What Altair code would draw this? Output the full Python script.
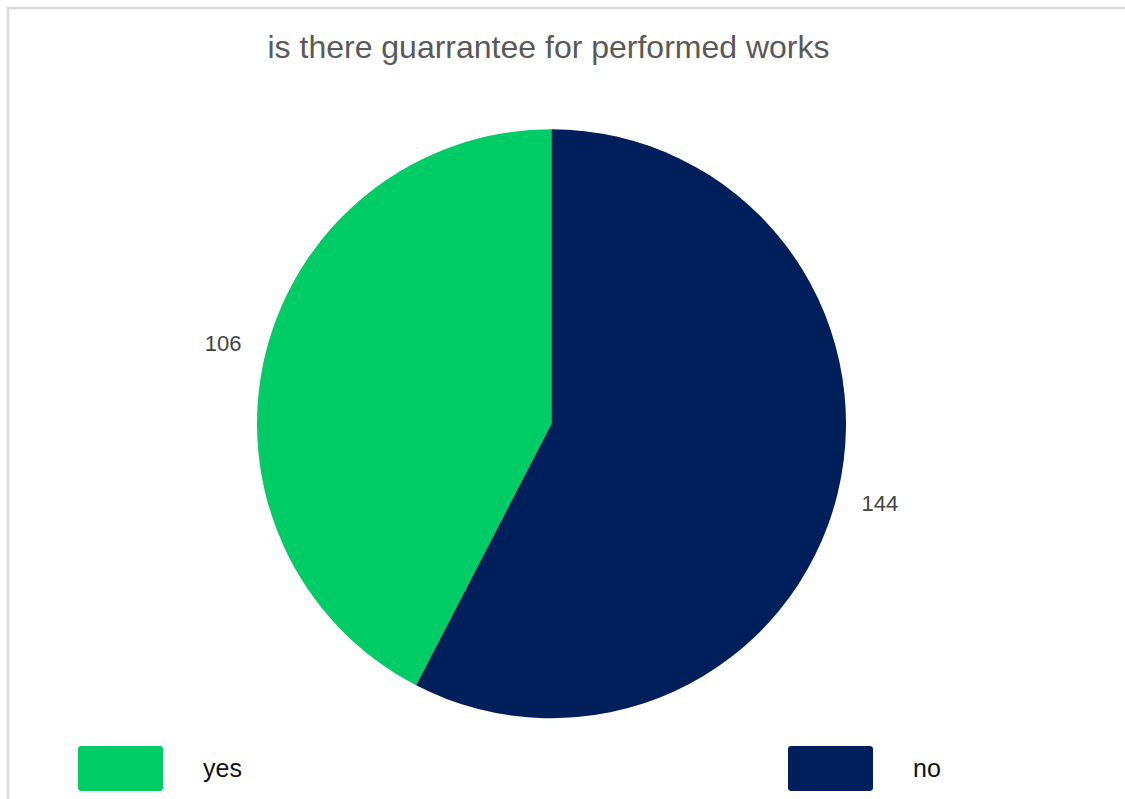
import altair as alt
import pandas as pd

title_text = "is there guarrantee for performed works"
categories = ["yes", "no"]
counts = [106, 144]
stack_order = [1, 0]
colors = ["#00cc66", "#001f5b"]

df = pd.DataFrame({"answer": categories, "count": counts, "ord": stack_order})

FONT = "Liberation Sans"

base = alt.Chart(df).encode(
    theta=alt.Theta("count:Q", stack=True),
    order=alt.Order("ord:Q"),
)

pie = base.mark_arc(outerRadius=294.5, stroke=None).encode(
    x=alt.value(551.5),
    y=alt.value(423.75),
    color=alt.Color(
        "answer:N",
        scale=alt.Scale(domain=categories, range=colors),
        legend=alt.Legend(title=None),
    ),
)

labels = base.mark_text(radius=338, fontSize=22, font=FONT, color="#444444").encode(
    x=alt.value(551.5),
    y=alt.value(423.75),
    text=alt.Text("count:Q"),
)

frame = alt.Chart(alt.Data(values=[{"f": 1}])).mark_rect(
    fill="transparent", stroke="#d9d9d9", strokeWidth=2.5
).encode(
    x=alt.value(8), x2=alt.value(1300),
    y=alt.value(8), y2=alt.value(1000),
)

title = alt.Chart(alt.Data(values=[{"t": title_text}])).mark_text(
    fontSize=32, font=FONT, color="#595959", baseline="alphabetic", align="center"
).encode(
    x=alt.value(548.5),
    y=alt.value(57.5),
    text="t:N",
)

rect_path = (
    "M-0.93,-0.529H0.93A0.07,0.07 0 0 1 1,-0.459V0.459"
    "A0.07,0.07 0 0 1 0.93,0.529H-0.93A0.07,0.07 0 0 1 -1,0.459"
    "V-0.459A0.07,0.07 0 0 1 -0.93,-0.529Z"
)

chart = alt.layer(frame, title, pie, labels).properties(
    width=1125,
    height=799,
    padding=0,
    autosize=alt.AutoSizeParams(type="none"),
).configure_view(stroke=None).configure_legend(
    orient="none",
    legendX=78,
    legendY=726,
    direction="horizontal",
    symbolType=rect_path,
    symbolSize=7225,
    symbolStrokeWidth=0,
    labelFontSize=25,
    labelFont=FONT,
    labelColor="#111111",
    labelOffset=40,
    columnPadding=546,
    padding=0,
)

chart.save("out.html", embed_options={"renderer": "svg", "actions": False})
